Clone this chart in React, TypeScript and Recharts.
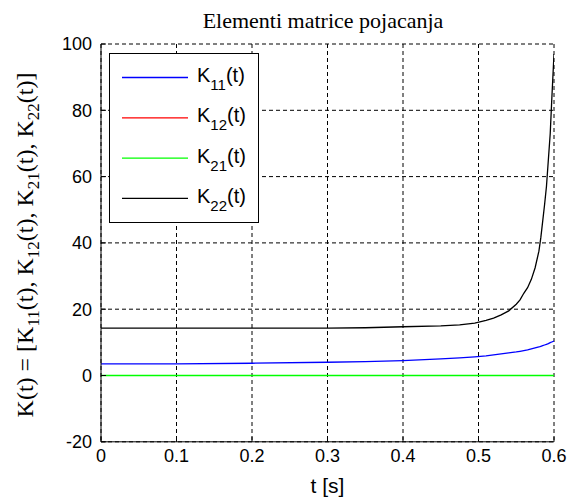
import { LineChart, Line, XAxis, YAxis, CartesianGrid, Legend } from 'recharts';

// time axis [s]
const tValues = [0, 0.1, 0.2, 0.3, 0.35, 0.4, 0.45, 0.475, 0.495, 0.51, 0.52, 0.53, 0.54, 0.55, 0.555, 0.56, 0.565, 0.57, 0.575, 0.58, 0.5825, 0.585, 0.5875, 0.59, 0.5925, 0.595, 0.597, 0.6];

// gain matrix elements
const k11Values = [3.5, 3.5, 3.7, 4.0, 4.2, 4.5, 5.0, 5.3, 5.6, 5.9, 6.2, 6.5, 6.8, 7.1, 7.3, 7.5, 7.7, 8.0, 8.3, 8.6, 8.8, 9.0, 9.2, 9.4, 9.6, 9.9, 10.1, 10.4];
const k12Values = [0, 0, 0, 0, 0, 0, 0, 0, 0, 0, 0, 0, 0, 0, 0, 0, 0, 0, 0, 0, 0, 0, 0, 0, 0, 0, 0, 0];
const k21Values = [0, 0, 0, 0, 0, 0, 0, 0, 0, 0, 0, 0, 0, 0, 0, 0, 0, 0, 0, 0, 0, 0, 0, 0, 0, 0, 0, 0];
const k22Values = [14.3, 14.3, 14.3, 14.3, 14.4, 14.7, 15.0, 15.3, 15.8, 16.6, 17.3, 18.3, 19.5, 21.5, 22.8, 24.8, 26.5, 29.0, 32.5, 37.5, 41.5, 46.5, 51.5, 57.0, 65.0, 73.0, 83.0, 97.0];

const xTicks = [0, 0.1, 0.2, 0.3, 0.4, 0.5, 0.6];
const yTicks = [-20, 0, 20, 40, 60, 80, 100];

// K12 sits under K21 in the original, so the green one is a bit wider to hide it fully
const series = [
  { key: 'k11', sub: '11', color: '#0000ff', width: 1.3 },
  { key: 'k12', sub: '12', color: '#ff0000', width: 1 },
  { key: 'k21', sub: '21', color: '#00ff00', width: 1.6 },
  { key: 'k22', sub: '22', color: '#000000', width: 1.3 },
];

const data = tValues.map((t, i) => ({
  t,
  k11: k11Values[i],
  k12: k12Values[i],
  k21: k21Values[i],
  k22: k22Values[i],
}));

const SANS = '"Liberation Sans", Arial, sans-serif';
const SERIF = '"Liberation Serif", "Times New Roman", serif';

// title + rotated y label, drawn from the y axis label slot
function AxisTitles() {
  const subs = ['11', '12', '21', '22'];
  return (
    <g>
      <text x={323} y={28} textAnchor="middle" fontFamily={SERIF} fontSize={22} fill="#000">
        Elementi matrice pojacanja
      </text>
      <text transform="rotate(-90)" x={-245} y={33} textAnchor="middle" fontFamily={SERIF} fontSize={24} fill="#000">
        K(t) = [
        {subs.map((s, i) => (
          <tspan key={s}>
            K<tspan dy={6} fontSize={17}>{s}</tspan>
            <tspan dy={-6}>(t){i < subs.length - 1 ? ', ' : ''}</tspan>
          </tspan>
        ))}
        ]
      </text>
    </g>
  );
}

function LegendBox() {
  return (
    <svg width={150} height={170} style={{ display: 'block' }}>
      <rect x={0.5} y={0.5} width={149} height={169} fill="#fff" stroke="#000" />
      {series.map((s, i) => {
        const y = 24.5 + i * 40.3;
        return (
          <g key={s.key}>
            <line x1={13} x2={79} y1={y} y2={y} stroke={s.color} strokeWidth={1.3} />
            <text x={88} y={y + 4.5} fontFamily={SANS} fontSize={20} fill="#000">
              K<tspan dy={8} fontSize={15}>{s.sub}</tspan>
              <tspan dy={-8}>(t)</tspan>
            </text>
          </g>
        );
      })}
    </svg>
  );
}

export default function App() {
  return (
    <div style={{ position: 'absolute', left: 0, top: 0, width: 567, height: 503, background: '#fff' }}>
      <LineChart width={567} height={503} data={data} margin={{ top: 44, right: 13, bottom: 31.2, left: 41 }}>
        <CartesianGrid stroke="#000" strokeDasharray="4 3" />
        <XAxis
          dataKey="t"
          type="number"
          domain={[0, 0.6]}
          ticks={xTicks}
          allowDataOverflow
          height={30}
          tickSize={-5}
          tickMargin={12}
          axisLine={{ stroke: '#000' }}
          tickLine={{ stroke: '#000' }}
          tick={{ fill: '#000', fontSize: 18, fontFamily: SANS }}
          label={{ value: 't [s]', position: 'bottom', offset: 6, fill: '#000', fontSize: 21, fontFamily: SANS }}
        />
        <XAxis
          xAxisId="top"
          orientation="top"
          type="number"
          domain={[0, 0.6]}
          ticks={xTicks}
          allowDataOverflow
          height={0}
          tickSize={-5}
          tick={false}
          axisLine={{ stroke: '#000' }}
          tickLine={{ stroke: '#000' }}
        />
        <YAxis
          type="number"
          domain={[-20, 100]}
          ticks={yTicks}
          allowDataOverflow
          width={60}
          tickSize={-5}
          tickMargin={14}
          axisLine={{ stroke: '#000' }}
          tickLine={{ stroke: '#000' }}
          tick={{ fill: '#000', fontSize: 18, fontFamily: SANS }}
          label={{ content: AxisTitles }}
        />
        <YAxis
          yAxisId="right"
          orientation="right"
          type="number"
          domain={[-20, 100]}
          ticks={yTicks}
          allowDataOverflow
          width={0}
          tickSize={-5}
          tick={false}
          axisLine={{ stroke: '#000' }}
          tickLine={{ stroke: '#000' }}
        />
        {series.map((s) => (
          <Line
            key={s.key}
            dataKey={s.key}
            type="linear"
            stroke={s.color}
            strokeWidth={s.width}
            dot={false}
            activeDot={false}
            isAnimationActive={false}
          />
        ))}
        <Legend
          layout="vertical"
          align="center"
          verticalAlign="middle"
          wrapperStyle={{ left: 109, top: 53, width: 150, height: 170 }}
          content={() => <LegendBox />}
        />
      </LineChart>
    </div>
  );
}
